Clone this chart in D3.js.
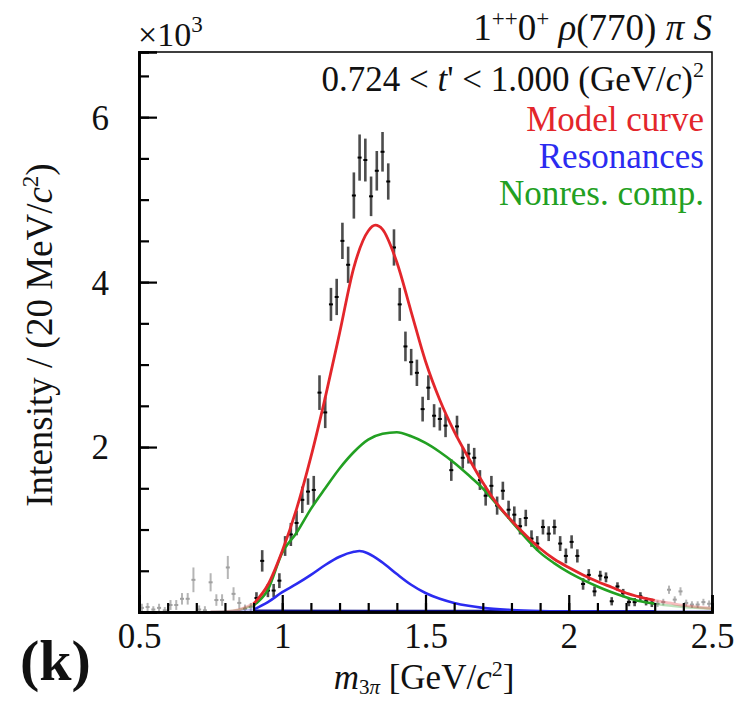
<!DOCTYPE html>
<html>
<head>
<meta charset="utf-8">
<script src="https://cdn.jsdelivr.net/npm/d3@7"></script>
<style>
  html, body { margin: 0; padding: 0; background: #fff; }
  svg text { font-family: "Liberation Serif", "Times New Roman", serif; }
</style>
</head>
<body>
<svg id="chart" width="737" height="701"></svg>
<script>
// ---------- DATA (intensity in units of 10^3) ----------
const binCenters = d3.range(100).map(i => +(0.51 + 0.02 * i).toFixed(2));
const intensity = [
  0.05, 0.06, 0.03, 0.05, 0.02, 0.085, 0.085, 0.16, 0.16, 0.39,
  0.03, 0.02, 0.36, 0.145, 0.145, 0.54, 0.22, 0.11, 0.04, 0.06,
  0.17, 0.62, 0.26, 0.26, 0.38, 0.80, 0.94, 1.08, 1.36, 1.46,
  1.48, 2.66, 2.42, 3.73, 3.82, 4.50, 4.21, 5.05, 5.51, 5.48,
  5.04, 5.35, 5.58, 5.22, 4.42, 3.73, 3.22, 3.03, 2.90, 2.46,
  2.72, 2.38, 2.34, 2.26, 1.72, 2.25, 1.87, 1.92, 1.87, 1.60,
  1.41, 1.53, 1.29, 1.47, 1.24, 1.18, 1.04, 1.14, 0.89, 0.83,
  1.03, 0.95, 1.03, 0.83, 0.68, 0.85, 0.68, 0.34, 0.45, 0.25,
  0.44, 0.42, 0.13, 0.31, 0.23, 0.12, 0.12, 0.19, 0.13, 0.11,
  0.10, 0.12, 0.27, 0.15, 0.25, 0.11, 0.09, 0.09, 0.12, 0.10
];
const errors = [
  0.05, 0.05, 0.04, 0.05, 0.04, 0.06, 0.06, 0.07, 0.07, 0.15,
  0.05, 0.05, 0.11, 0.07, 0.07, 0.14, 0.08, 0.07, 0.05, 0.05,
  0.07, 0.13, 0.08, 0.08, 0.09, 0.12, 0.14, 0.15, 0.16, 0.16,
  0.17, 0.21, 0.19, 0.20, 0.22, 0.22, 0.22, 0.28, 0.28, 0.26,
  0.24, 0.24, 0.24, 0.22, 0.22, 0.20, 0.18, 0.16, 0.16, 0.15,
  0.15, 0.14, 0.14, 0.14, 0.13, 0.13, 0.13, 0.12, 0.12, 0.12,
  0.12, 0.12, 0.11, 0.11, 0.11, 0.10, 0.10, 0.10, 0.10, 0.09,
  0.09, 0.09, 0.09, 0.09, 0.09, 0.08, 0.08, 0.07, 0.07, 0.06,
  0.06, 0.06, 0.05, 0.05, 0.05, 0.05, 0.05, 0.05, 0.05, 0.05,
  0.04, 0.04, 0.05, 0.04, 0.05, 0.04, 0.04, 0.04, 0.04, 0.04
];
const fitRange = [0.9, 2.3];

// model curves sampled as [mass, intensity]
const modelCurve = [
  [0.75,0.0],[0.80,0.005],[0.85,0.03],[0.90,0.10],[0.95,0.33],[1.00,0.74],[1.05,1.25],
  [1.10,1.88],[1.15,2.60],[1.20,3.38],[1.25,4.18],[1.30,4.62],[1.325,4.69],[1.35,4.64],
  [1.40,4.24],[1.45,3.64],[1.50,3.04],[1.55,2.57],[1.60,2.19],[1.65,1.87],[1.70,1.57],
  [1.75,1.31],[1.80,1.11],[1.85,0.93],[1.90,0.77],[1.95,0.64],[2.00,0.54],[2.05,0.45],
  [2.10,0.37],[2.15,0.30],[2.20,0.23],[2.25,0.18],[2.30,0.14],[2.35,0.11],[2.40,0.08],
  [2.45,0.06],[2.50,0.045]
];
const resonanceCurve = [
  [0.75,0.0],[0.80,0.002],[0.85,0.008],[0.90,0.03],[0.95,0.12],[1.00,0.24],[1.05,0.34],
  [1.10,0.45],[1.15,0.57],[1.20,0.67],[1.25,0.73],[1.27,0.74],[1.30,0.71],[1.35,0.60],
  [1.40,0.46],[1.45,0.33],[1.50,0.23],[1.55,0.16],[1.60,0.11],[1.65,0.075],[1.70,0.05],
  [1.80,0.025],[1.90,0.013],[2.00,0.008],[2.10,0.005],[2.30,0.003],[2.50,0.002]
];
const nonresCurve = [
  [0.75,0.0],[0.80,0.004],[0.85,0.025],[0.90,0.08],[0.95,0.27],[1.00,0.72],[1.05,0.96],
  [1.10,1.25],[1.15,1.50],[1.20,1.74],[1.25,1.94],[1.30,2.09],[1.35,2.16],[1.40,2.18],
  [1.45,2.13],[1.50,2.05],[1.55,1.94],[1.60,1.81],[1.65,1.66],[1.70,1.50],[1.75,1.30],
  [1.80,1.10],[1.85,0.90],[1.90,0.72],[1.95,0.59],[2.00,0.48],[2.05,0.39],[2.10,0.31],
  [2.15,0.24],[2.20,0.18],[2.25,0.13],[2.30,0.10],[2.40,0.06],[2.50,0.04]
];
const smallResCurve = [
  [0.90,0.012],[1.30,0.010],[1.70,0.008],[2.10,0.006],[2.30,0.005],[2.50,0.004]
];

const xMajorTicks = [0.5, 1, 1.5, 2, 2.5];
const xTickLabels = ["0.5", "1", "1.5", "2", "2.5"];
const yMajorTicks = [0, 2, 4, 6];
const yTickLabels = ["", "2", "4", "6"];

// ---------- LAYOUT ----------
const svg = d3.select("#chart");
const L = 139, R = 712, T = 52, B = 612;
const x = d3.scaleLinear().domain([0.5, 2.5]).range([L, R]);
const y = d3.scaleLinear().domain([0, 6.79]).range([B, T]);

const cRed = "#e3262b", cBlue = "#2b2bf0", cGreen = "#22a022", cNavy = "#0b0b80";

svg.append("defs").append("clipPath").attr("id", "plotclip")
  .append("rect").attr("x", L).attr("y", T).attr("width", R - L).attr("height", B - T);

const plot = svg.append("g").attr("clip-path", "url(#plotclip)");

// ---------- DATA POINTS ----------
const pts = binCenters.map((m, i) => ({ m, v: intensity[i], e: errors[i],
  inFit: m > fitRange[0] && m < fitRange[1] }));
const half = 0.01;
const ptG = plot.append("g");
pts.forEach(p => {
  const col = p.inFit ? "#1a1a1a" : "#a8a8a8";
  ptG.append("line")
    .attr("x1", x(p.m)).attr("x2", x(p.m))
    .attr("y1", y(Math.max(0, p.v - p.e))).attr("y2", y(p.v + p.e))
    .attr("stroke", col).attr("stroke-width", p.inFit ? 2.6 : 2)
    .attr("stroke-opacity", p.inFit ? 0.78 : 0.85);
  ptG.append("line")
    .attr("x1", x(p.m - half * 0.7)).attr("x2", x(p.m + half * 0.7))
    .attr("y1", y(p.v)).attr("y2", y(p.v))
    .attr("stroke", p.inFit ? "#000" : "#a0a0a0").attr("stroke-width", 2);
});

// ---------- CURVES ----------
const line = d3.line().x(d => x(d[0])).y(d => y(d[1])).curve(d3.curveMonotoneX);
function drawCurve(data, color, width) {
  const inside = data.filter(d => d[0] >= fitRange[0] - 1e-9 && d[0] <= fitRange[1] + 1e-9);
  const left = data.filter(d => d[0] <= fitRange[0] + 1e-9);
  const right = data.filter(d => d[0] >= fitRange[1] - 1e-9);
  [left, right].forEach(seg => {
    if (seg.length > 1) plot.append("path").attr("d", line(seg)).attr("fill", "none")
      .attr("stroke", color).attr("stroke-width", width).attr("stroke-opacity", 0.3);
  });
  plot.append("path").attr("d", line(inside)).attr("fill", "none")
    .attr("stroke", color).attr("stroke-width", width);
}
drawCurve(smallResCurve, cNavy, 3);
drawCurve(nonresCurve, cGreen, 2.6);
drawCurve(resonanceCurve, cBlue, 2.6);
drawCurve(modelCurve, cRed, 2.8);

// ---------- FRAME & AXES ----------
svg.append("rect").attr("x", L).attr("y", T).attr("width", R - L).attr("height", B - T)
  .attr("fill", "none").attr("stroke", "#000").attr("stroke-width", 1.5);

const xMinor = d3.range(0.5, 2.5001, 0.1).map(v => +v.toFixed(2));
const yMinor = d3.range(0, 6.79, 0.5).map(v => +v.toFixed(2));

const xAxisMinor = svg.append("g").attr("transform", `translate(0,${B})`)
  .call(d3.axisBottom(x).tickValues(xMinor).tickSize(-9).tickFormat(""));
const xAxisMajor = svg.append("g").attr("transform", `translate(0,${B})`)
  .call(d3.axisBottom(x).tickValues(xMajorTicks).tickSize(-17).tickPadding(36)
    .tickFormat((d, i) => xTickLabels[i]));
const yAxisMinor = svg.append("g").attr("transform", `translate(${L},0)`)
  .call(d3.axisLeft(y).tickValues(yMinor).tickSize(-10).tickFormat(""));
const yAxisMajor = svg.append("g").attr("transform", `translate(${L},0)`)
  .call(d3.axisLeft(y).tickValues(yMajorTicks).tickSize(-18).tickPadding(30)
    .tickFormat((d, i) => yTickLabels[i]));

[xAxisMinor, xAxisMajor, yAxisMinor, yAxisMajor].forEach(g => {
  g.selectAll(".tick line").attr("stroke", "#000").attr("stroke-width", 2.2);
  g.select(".domain").attr("stroke", "#000").attr("stroke-width", 2.6);
  g.selectAll("text").attr("font-family", "Liberation Serif").attr("font-size", 35)
    .attr("fill", "#111");
});
xAxisMajor.selectAll(".tick text").attr("dy", 0);
yAxisMajor.selectAll(".tick text").attr("dy", "0.34em");

// ---------- TEXTS ----------
// ×10^3
const mult = svg.append("text").attr("x", 138).attr("y", 46).attr("font-size", 34).attr("fill", "#111");
mult.append("tspan").text("×10");
mult.append("tspan").attr("dy", -14).attr("font-size", 23).text("3");

// title
const title = svg.append("text").attr("x", 712).attr("y", 40).attr("text-anchor", "end")
  .attr("font-size", 37).attr("fill", "#111");
title.append("tspan").text("1");
title.append("tspan").attr("dy", -14).attr("font-size", 23).text("++");
title.append("tspan").attr("dy", 14).text("0");
title.append("tspan").attr("dy", -14).attr("font-size", 23).text("+");
title.append("tspan").attr("dy", 14).text(" ");
title.append("tspan").attr("font-style", "italic").text("ρ");
title.append("tspan").text("(770) ");
title.append("tspan").attr("font-style", "italic").text("π");
title.append("tspan").text(" ");
title.append("tspan").attr("font-style", "italic").text("S");

// t' range
const tr = svg.append("text").attr("x", 704).attr("y", 91).attr("text-anchor", "end")
  .attr("font-size", 35).attr("fill", "#111");
tr.append("tspan").text("0.724 < ");
tr.append("tspan").attr("font-style", "italic").text("t");
tr.append("tspan").text("' < 1.000 (GeV/");
tr.append("tspan").attr("font-style", "italic").text("c");
tr.append("tspan").text(")");
tr.append("tspan").attr("dy", -14).attr("font-size", 22).text("2");

// legend
const legend = [["Model curve", cRed, 131], ["Resonances", cBlue, 168], ["Nonres. comp.", cGreen, 205]];
legend.forEach(([t, c, yy]) => {
  svg.append("text").attr("x", 704).attr("y", yy).attr("text-anchor", "end")
    .attr("font-size", 35).attr("fill", c).text(t);
});

// y label
const yl = svg.append("text").attr("transform", "translate(52,335) rotate(-90)")
  .attr("text-anchor", "middle").attr("font-size", 37).attr("fill", "#111");
yl.append("tspan").text("Intensity / (20 MeV/");
yl.append("tspan").attr("font-style", "italic").text("c");
yl.append("tspan").attr("dy", -14).attr("font-size", 23).text("2");
yl.append("tspan").attr("dy", 14).text(")");

// x label
const xl = svg.append("text").attr("x", 424).attr("y", 689).attr("text-anchor", "middle")
  .attr("font-size", 35).attr("fill", "#111");
xl.append("tspan").attr("font-style", "italic").text("m");
xl.append("tspan").attr("dy", 5).attr("font-size", 21).text("3");
xl.append("tspan").attr("font-size", 21).attr("font-style", "italic").text("π");
xl.append("tspan").attr("dy", -5).text(" [GeV/");
xl.append("tspan").attr("font-style", "italic").text("c");
xl.append("tspan").attr("dy", -13).attr("font-size", 22).text("2");
xl.append("tspan").attr("dy", 13).text("]");

// panel label
svg.append("text").attr("x", 20).attr("y", 680).attr("font-size", 58)
  .attr("font-weight", "bold").attr("fill", "#111").text("(k)");
</script>
</body>
</html>
